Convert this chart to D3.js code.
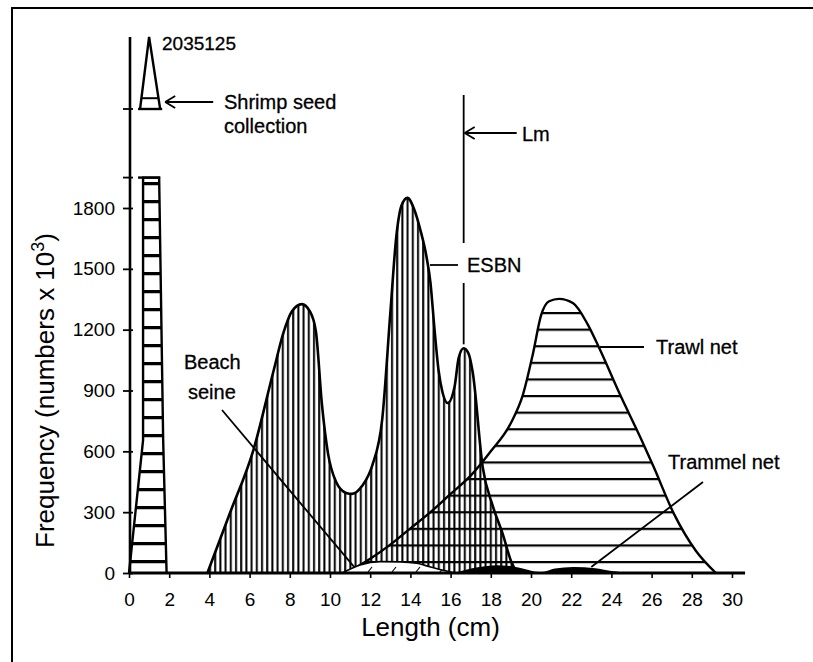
<!DOCTYPE html>
<html>
<head>
<meta charset="utf-8">
<script src="https://cdn.jsdelivr.net/npm/d3@7"></script>
<style>
body { margin: 0; background: #fff; }
text { font-family: "Liberation Sans", Arial, sans-serif; fill: #000; }
</style>
</head>
<body>
<svg id="chart" width="813" height="662"></svg>
<script>
// tick values
const xTicks = d3.range(0, 31, 2);
const yTicks = [0, 300, 600, 900, 1200, 1500, 1800];
const yBreak = 1950;
const shrimpSeedTotal = 2035125;
const lmLength = 16.65;

// [length cm, frequency x 1000]
const shrimpSeed = [[0, 0], [0.7, 655], [0.7, 1950], [1.5, 1950], [1.7, 655], [1.87, 0]];
const shrimpSeedTop = [[0.55, 0], [1.0, shrimpSeedTotal], [1.55, 0]];
const esbn = [[3.9, 0], [5.0, 290], [6.2, 610], [7.2, 1000], [7.7, 1190], [8.1, 1290],
    [8.6, 1326], [9.0, 1290], [9.3, 1190], [9.6, 830], [9.9, 590], [10.3, 450], [10.8, 395],
    [11.1, 390], [11.6, 430], [12.1, 530], [12.6, 760], [13.0, 1280], [13.3, 1660], [13.55, 1810],
    [13.85, 1850], [14.2, 1790], [14.5, 1690], [14.8, 1560], [15.0, 1430], [15.2, 1200],
    [15.4, 1000], [15.6, 890], [15.85, 838], [16.2, 920], [16.4, 1060], [16.65, 1108],
    [16.9, 1080], [17.1, 990], [17.6, 520], [18.1, 330], [18.6, 190], [19.0, 60], [19.3, 0]];
const trawlNet = [[10.8, 0], [12.0, 70], [13.0, 140], [14.0, 220], [15.0, 300], [16.0, 390],
    [17.0, 480], [18.0, 600], [19.0, 740], [19.6, 880], [20.1, 1083], [20.5, 1270], [20.9, 1340],
    [21.4, 1352], [22.1, 1330], [22.8, 1230], [23.4, 1108], [24.4, 886], [25.5, 656], [26.1, 524],
    [27.1, 294], [28.2, 110], [29.2, 0]];
const beachSeine = [[10.6, 0], [11.5, 40], [12.5, 56], [13.5, 55], [14.3, 48], [15.0, 30],
    [15.7, 12], [16.2, 0]];
const trammelNet = [[16.3, 0], [17.2, 22], [18.3, 35], [19.3, 25], [20.2, 3], [20.5, 0], [21.2, 18],
    [22.1, 26], [23.2, 20], [24.0, 6], [24.6, 0]];

const svg = d3.select("#chart");

const x = d3.scaleLinear().domain([0, 30]).range([129, 732]);
const y = d3.scaleLinear().domain([0, 1800]).range([573, 208]);
const yTop = d3.scaleLinear().domain([0, shrimpSeedTotal]).range([109, 37]);

// frame of the scanned figure
svg.append("path")
    .attr("d", "M12,662V8H813")
    .attr("fill", "none")
    .attr("stroke", "#000")
    .attr("stroke-width", 2);

// hatch patterns
const defs = svg.append("defs");
defs.append("pattern")
    .attr("id", "vhatch")
    .attr("patternUnits", "userSpaceOnUse")
    .attr("width", 5.2).attr("height", 10)
    .append("line")
    .attr("x1", 2).attr("x2", 2).attr("y1", 0).attr("y2", 10)
    .attr("stroke", "#000").attr("stroke-width", 2);
defs.append("pattern")
    .attr("id", "hhatch")
    .attr("patternUnits", "userSpaceOnUse")
    .attr("y", 312)
    .attr("width", 10).attr("height", 16.6)
    .append("line")
    .attr("x1", 0).attr("x2", 10).attr("y1", 1).attr("y2", 1)
    .attr("stroke", "#000").attr("stroke-width", 2.4);
defs.append("pattern")
    .attr("id", "shatch")
    .attr("patternUnits", "userSpaceOnUse")
    .attr("y", 182)
    .attr("width", 10).attr("height", 18)
    .append("line")
    .attr("x1", 0).attr("x2", 10).attr("y1", 1.5).attr("y2", 1.5)
    .attr("stroke", "#000").attr("stroke-width", 3.5);
const dpat = defs.append("pattern")
    .attr("id", "dhatch")
    .attr("patternUnits", "userSpaceOnUse")
    .attr("width", 24).attr("height", 14);
dpat.append("line")
    .attr("x1", 8).attr("y1", 12).attr("x2", 12).attr("y2", 7)
    .attr("stroke", "#000").attr("stroke-width", 1.2);

const area = d3.area()
    .x(d => x(d[0]))
    .y0(y(0))
    .y1(d => y(d[1]))
    .curve(d3.curveMonotoneX);
const line = d3.line()
    .x(d => x(d[0]))
    .y(d => y(d[1]))
    .curve(d3.curveMonotoneX);

// ESBN
svg.append("path").datum(esbn)
    .attr("d", area)
    .attr("fill", "url(#vhatch)");
svg.append("path").datum(esbn)
    .attr("d", line)
    .attr("fill", "none").attr("stroke", "#000").attr("stroke-width", 2.6);

// Trawl net
svg.append("path").datum(trawlNet)
    .attr("d", area)
    .attr("fill", "url(#hhatch)");
svg.append("path").datum(trawlNet)
    .attr("d", line)
    .attr("fill", "none").attr("stroke", "#000").attr("stroke-width", 2.4);

// Beach seine
svg.append("path").datum(beachSeine)
    .attr("d", area)
    .attr("fill", "#fff").attr("stroke", "#000").attr("stroke-width", 1.6);
svg.append("path").datum(beachSeine)
    .attr("d", area)
    .attr("fill", "url(#dhatch)");

// Trammel net
svg.append("path").datum(trammelNet)
    .attr("d", area)
    .attr("fill", "#000").attr("stroke", "#000").attr("stroke-width", 1.5);

// Shrimp seed collection
svg.append("path").datum(shrimpSeed)
    .attr("d", d3.line().x(d => x(d[0])).y(d => y(d[1])))
    .attr("fill", "url(#shatch)")
    .attr("stroke", "#000").attr("stroke-width", 2.4);
svg.append("line")
    .attr("x1", x(0.45)).attr("x2", x(1.55))
    .attr("y1", y(yBreak)).attr("y2", y(yBreak))
    .attr("stroke", "#000").attr("stroke-width", 2.4);
svg.append("path").datum(shrimpSeedTop)
    .attr("d", d3.line().x(d => x(d[0])).y(d => yTop(d[1])))
    .attr("fill", "none")
    .attr("stroke", "#000").attr("stroke-width", 2.4);
svg.append("line")
    .attr("x1", x(0.45)).attr("x2", x(1.65))
    .attr("y1", yTop(0)).attr("y2", yTop(0))
    .attr("stroke", "#000").attr("stroke-width", 2.4);
svg.append("line")
    .attr("x1", x(0.63)).attr("x2", x(1.45))
    .attr("y1", yTop(shrimpSeedTotal * 0.15)).attr("y2", yTop(shrimpSeedTotal * 0.15))
    .attr("stroke", "#000").attr("stroke-width", 2);

// axes
const xAxis = svg.append("g")
    .attr("transform", `translate(0,${y(0)})`)
    .call(d3.axisBottom(x).tickValues(xTicks).tickSize(5).tickPadding(15));
xAxis.select(".domain").remove();
xAxis.selectAll("line").attr("stroke-width", 1.6);
xAxis.selectAll("text").attr("font-size", 19).attr("font-family", "Liberation Sans, Arial, sans-serif");
svg.append("line")
    .attr("x1", x(0)).attr("x2", x(30.65))
    .attr("y1", y(0)).attr("y2", y(0))
    .attr("stroke", "#000").attr("stroke-width", 2.8);

const yAxis = svg.append("g")
    .attr("transform", `translate(${x(0) + 1},0)`)
    .call(d3.axisLeft(y).tickValues(yTicks).tickFormat(d3.format("d")).tickSize(7).tickPadding(8));
yAxis.select(".domain").remove();
yAxis.selectAll("line").attr("x2", -7).attr("x1", 3).attr("stroke-width", 1.8);
yAxis.selectAll("text").attr("font-size", 19).attr("font-family", "Liberation Sans, Arial, sans-serif");
svg.append("line")
    .attr("x1", x(0) + 1).attr("x2", x(0) + 1)
    .attr("y1", y(0)).attr("y2", yTop(shrimpSeedTotal))
    .attr("stroke", "#000").attr("stroke-width", 2.6);
[y(yBreak), yTop(0)].forEach(v => {
    svg.append("line")
        .attr("x1", x(0) - 6).attr("x2", x(0) + 4)
        .attr("y1", v).attr("y2", v)
        .attr("stroke", "#000").attr("stroke-width", 1.8);
});

// axis titles
svg.append("text")
    .attr("x", (x(0) + x(30)) / 2).attr("y", 636)
    .attr("text-anchor", "middle")
    .attr("font-size", 26)
    .text("Length (cm)");
const yTitle = svg.append("text")
    .attr("transform", `translate(54,${(y(0) + y(1800)) / 2}) rotate(-90)`)
    .attr("text-anchor", "middle")
    .attr("font-size", 26);
yTitle.append("tspan").text("Frequency (numbers x 10");
yTitle.append("tspan").attr("baseline-shift", "super").attr("font-size", 18).text("3");
yTitle.append("tspan").text(")");

// annotations
const ink = (x1, y1, x2, y2, w) => svg.append("line")
    .attr("x1", x1).attr("y1", y1).attr("x2", x2).attr("y2", y2)
    .attr("stroke", "#000").attr("stroke-width", w || 1.8);
const arrowLeft = (tipX, tipY, len) => {
    ink(tipX, tipY, tipX + len, tipY);
    ink(tipX, tipY, tipX + 10, tipY - 6);
    ink(tipX, tipY, tipX + 10, tipY + 6);
};
const label = (tx, ty, s, size) => svg.append("text")
    .attr("x", tx).attr("y", ty)
    .attr("font-size", size || 20)
    .attr("stroke", "#000").attr("stroke-width", 0.3)
    .text(s);

label(162, 50, "2035125", 19);
arrowLeft(x(1.8), 102, 48);
label(224, 109, "Shrimp seed");
label(224, 133, "collection");

// Lm
ink(x(lmLength), 95, x(lmLength), 243, 1.8);
ink(x(lmLength), 283, x(lmLength), y(1108) - 4, 1.8);
arrowLeft(x(lmLength) + 1, 133, 52);
label(522, 141, "Lm");

ink(430, 265, 458, 265);
label(467, 272, "ESBN");

ink(600, 347, 644, 347);
label(656, 354, "Trawl net");

ink(222, 410, x(11.2), y(30), 1.8);
label(184, 369, "Beach");
label(188, 399, "seine");

ink(x(23.0), y(30), 703, 482, 1.8);
label(668, 469, "Trammel net");
</script>
</body>
</html>
